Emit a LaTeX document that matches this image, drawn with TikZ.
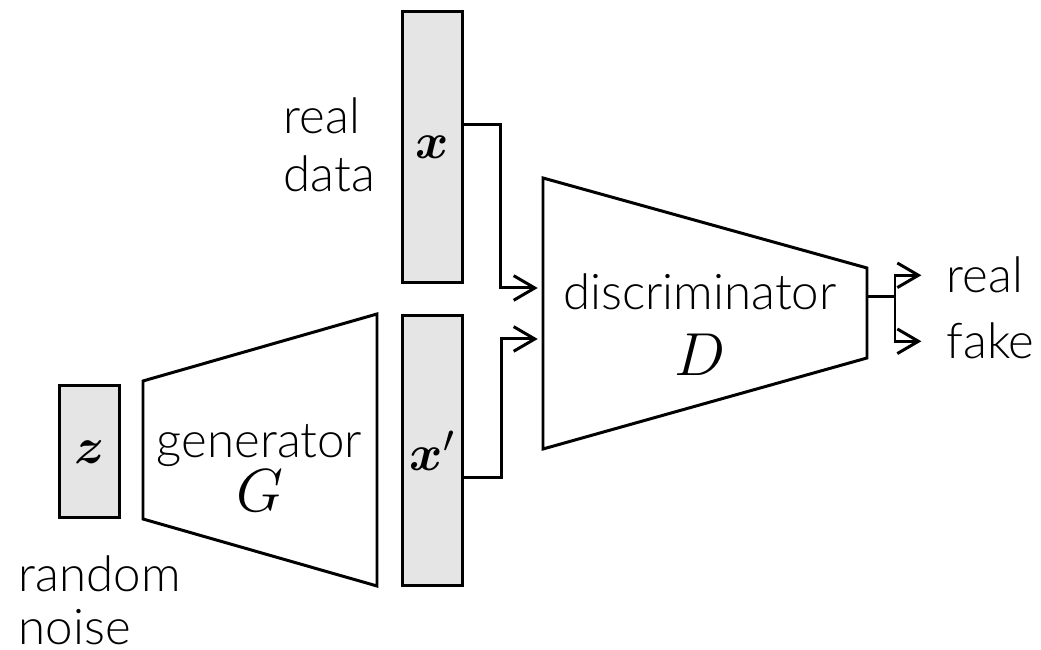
\documentclass[tikz,border=0pt]{standalone}
\usepackage{amsmath,bm}
\usepackage{fontspec}
\IfFontExistsTF{Lato Light}{\setmainfont{Lato Light}}{\setmainfont{Lato}}
\usetikzlibrary{arrows.meta}

\tikzset{
  vecbox/.style={draw, line width=0.85pt, fill=gray!20, minimum width=0.6cm, inner sep=0pt, font=\fontsize{15}{15}\selectfont},
  netline/.style={line width=0.85pt},
  arr/.style={line width=0.85pt, -{Straight Barb[length=6pt,width=7pt]}},
  txt/.style={inner sep=0pt, font=\fontsize{14}{16.6}\selectfont},
}

\begin{document}
\begin{tikzpicture}
    \useasboundingbox (0,0) rectangle (10.41,6.50);

    % input and output vectors
    \node[vecbox, minimum height=1.32cm] (z) at (0.895,1.98) {$\bm{z}$};
    \node[vecbox, minimum height=2.71cm] (x) at (4.325,5.025) {$\bm{x}$};
    \node[vecbox, minimum height=2.70cm] (xf) at (4.325,1.99) {$\bm{x}'$};

    % generator and discriminator
    \draw[netline] (1.43,2.69) -- (3.77,3.36) -- (3.77,0.64) -- (1.43,1.31) -- cycle;
    \draw[netline] (5.43,4.72) -- (8.67,3.82) -- (8.67,2.92) -- (5.43,2.01) -- cycle;

    \node[txt, align=center] (gen) at (2.595,1.82)
        {generator\\[-1.4pt]{\fontsize{16}{16}\selectfont$G$}};
    \node[txt, align=center] (dis) at (7.0,3.25)
        {discriminator\\[2.2pt]{\fontsize{16}{16}\selectfont$D$}};
    \node[txt, align=left, anchor=west] (data) at (2.83,5.05) {real\\data};
    \node[txt, align=left, anchor=west] (noise) at (0.18,0.50) {random\\[-1.6pt]noise};
    \node[txt, anchor=base west] (real) at (9.46,3.57) {real};
    \node[txt, anchor=base west] (fake) at (9.46,2.91) {fake};

    % connectors
    \coordinate (dinA) at (5.43,3.62);
    \coordinate (dinB) at (5.43,3.11);
    \coordinate (dout) at (8.67,3.53);
    \draw[arr, shorten >=1.5pt] ([yshift=0.225cm]x.east) -- ++(0.365,0) |- (dinA);
    \draw[arr, shorten >=1.5pt] ([yshift=-0.27cm]xf.east) -- ++(0.375,0) |- (dinB);
    \draw[netline] (dout) -- ++(0.28,0) coordinate (split);
    \draw[arr, shorten >=7pt] (split) |- (real.west);
    \draw[arr, shorten >=7pt] (split) |- (fake.west);
\end{tikzpicture}
\end{document}
